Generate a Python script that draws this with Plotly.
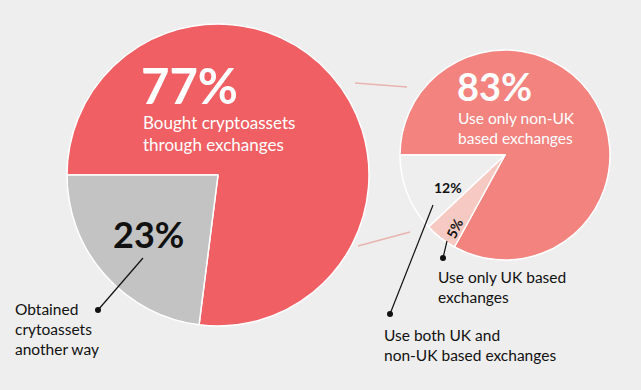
import plotly.graph_objects as go

W, H = 641, 390

# Data
main_labels = ["Bought cryptoassets through exchanges", "Obtained crytoassets another way"]
main_values = [77, 23]
sub_labels = ["Use only non-UK based exchanges", "Use only UK based exchanges", "Use both UK and non-UK based exchanges"]
sub_values = [83, 5, 12]

BG = "#eeeeee"
RED = "#ef5f64"
GREY = "#c3c3c3"
SALMON = "#f2837f"
PINK = "#f6c9c3"
FONT = "Lato"


def px(x):
    return x / W


def py(y):
    return 1 - y / H


def dom(cx, cy, r):
    return dict(x=[px(cx - r), px(cx + r)], y=[py(cy + r), py(cy - r)])


fig = go.Figure()
fig.add_trace(go.Pie(
    labels=main_labels, values=main_values, sort=False, direction="clockwise",
    rotation=270, textinfo="none", hoverinfo="label+percent",
    marker=dict(colors=[RED, GREY], line=dict(color="white", width=1.5)),
    domain=dom(218, 175, 151), showlegend=False,
))
fig.add_trace(go.Pie(
    labels=sub_labels, values=sub_values, sort=False, direction="clockwise",
    rotation=270, textinfo="none", hoverinfo="label+percent",
    marker=dict(colors=[SALMON, PINK, BG], line=dict(color="white", width=1.5)),
    domain=dom(505, 155, 105), showlegend=False,
))

shapes = []
# connector lines between pies
for (x0, y0, x1, y1) in [(355, 83, 407, 87), (358, 246, 410, 232)]:
    shapes.append(dict(type="line", xref="paper", yref="paper",
                       x0=px(x0), y0=py(y0), x1=px(x1), y1=py(y1),
                       line=dict(color="#e8b4ae", width=1.5)))
# leader lines with dots
for (x0, y0, x1, y1) in [(143, 258, 98, 310), (447, 241, 443, 258), (433, 205, 390, 314)]:
    shapes.append(dict(type="line", xref="paper", yref="paper",
                       x0=px(x0), y0=py(y0), x1=px(x1), y1=py(y1),
                       line=dict(color="#111111", width=1.2)))
    shapes.append(dict(type="circle", xref="paper", yref="paper",
                       x0=px(x1 - 3), y0=py(y1 + 3), x1=px(x1 + 3), y1=py(y1 - 3),
                       fillcolor="#111111", line=dict(width=0)))

anns = []


def ann(text, x, y, size, color, bold=False, align="left", xanchor="left", angle=0, yanchor="middle"):
    anns.append(dict(text=("<b>%s</b>" % text) if bold else text, x=px(x), y=py(y),
                     xref="paper", yref="paper", showarrow=False, xanchor=xanchor,
                     yanchor=yanchor, align=align, textangle=angle,
                     font=dict(family=FONT, size=size, color=color)))


ann("77%", 139, 85, 49, "white", bold=True)
ann("Bought cryptoassets<br>through exchanges", 141, 133, 17, "white")
ann("23%", 148, 234, 36, "#111111", bold=True, xanchor="center")
ann("Obtained<br>crytoassets<br>another way", 13, 329, 15.5, "#111111")
ann("83%", 455, 86, 38, "white", bold=True)
ann("Use only non-UK<br>based exchanges", 456, 128, 15.5, "white")
ann("12%", 448, 187, 14, "#111111", bold=True, xanchor="center")
ann("5%", 454, 228, 14, "#111111", bold=True, xanchor="center", angle=-65)
ann("Use only UK based<br>exchanges", 436, 287, 15.5, "#111111")
ann("Use both UK and<br>non-UK based exchanges", 382, 345, 15.5, "#111111")

fig.update_layout(
    width=W, height=H, margin=dict(l=0, r=0, t=0, b=0),
    paper_bgcolor=BG, plot_bgcolor=BG,
    shapes=shapes, annotations=anns,
)

fig.write_html("out.html", config={"displayModeBar": False},
               post_script="document.body.style.margin='0';")
